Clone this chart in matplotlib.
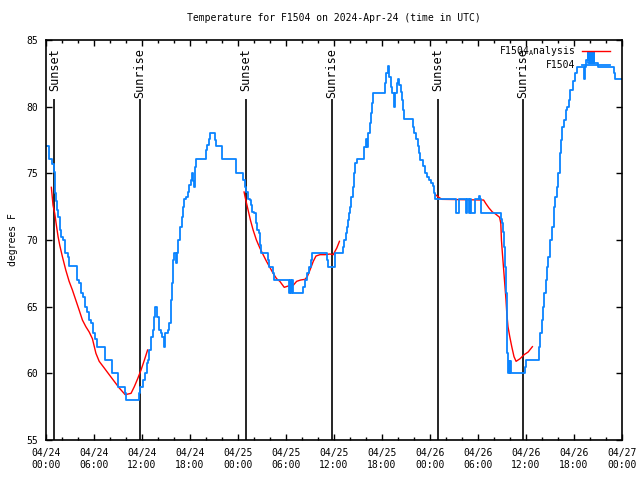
import numpy as np
import pandas as pd
import matplotlib
matplotlib.use('Agg')
import matplotlib.pyplot as plt
import matplotlib.dates as mdates

plt.rcParams['font.family'] = ['DejaVu Sans Mono']
plt.rcParams['font.size'] = 7
plt.rcParams['mathtext.fontset'] = 'custom'
plt.rcParams['mathtext.rm'] = 'DejaVu Sans Mono'

base = pd.Timestamp('2024-04-24 00:00')

# observed temperature (hours since 04/24 00:00 UTC, deg F)
obs_hours = [0.17, 0.38, 0.71, 0.96, 1.09, 1.30, 1.42, 1.55, 1.72, 1.88, 2.17, 2.38, 2.72, 2.93,
             3.85, 4.18, 4.39, 4.68, 4.89, 5.18, 5.40, 5.68, 5.90, 6.10, 6.40, 7.36, 8.20, 8.95,
             9.90, 10.00, 11.58, 11.80, 12.08, 12.34, 12.59, 12.80, 12.93, 13.17, 13.34, 13.50,
             13.68, 13.84, 14.10, 14.34, 14.52, 14.72, 14.93, 15.22, 15.43, 15.64, 15.68, 15.80,
             15.93, 16.06, 16.20, 16.35, 16.52, 16.69, 16.94, 17.15, 17.28, 17.48, 17.70, 17.90,
             18.07, 18.23, 18.40, 18.48, 18.61, 18.78, 19.95, 20.16, 20.37, 20.53, 21.16, 21.29,
             21.99, 22.04, 23.70, 23.80, 24.63, 24.84, 25.05, 25.26, 25.47, 25.60, 25.81, 25.97,
             26.19, 26.39, 26.64, 26.73, 26.85, 27.69, 27.89, 28.36, 28.52, 30.40, 30.50, 30.66,
             30.75, 30.85, 32.16, 32.37, 32.66, 32.87, 33.08, 33.29, 35.17, 35.29, 36.17, 37.10,
             37.26, 37.47, 37.60, 37.80, 37.93, 38.00, 38.14, 38.35, 38.52, 38.68, 38.90, 39.78,
             39.94, 40.10, 40.24, 40.44, 40.57, 40.74, 40.90, 42.32, 42.50, 42.70, 42.87, 43.07,
             43.29, 43.45, 43.66, 43.83, 44.00, 44.17, 44.33, 44.46, 44.58, 44.76, 45.85, 45.98,
             46.21, 46.46, 46.64, 46.80, 47.10, 47.40, 47.65, 47.93, 48.18, 48.40, 48.52, 48.65,
             51.30, 51.65, 52.50, 52.65, 52.85, 53.00, 53.15, 53.60, 54.10, 54.20, 54.35, 56.85,
             57.00, 57.10, 57.30, 57.40, 57.53, 57.60, 57.65, 57.70, 57.85, 57.95, 58.05, 58.15,
             59.90, 59.98, 61.65, 61.77, 61.94, 62.07, 62.27, 62.44, 62.61, 62.77, 62.94, 63.02,
             63.24, 63.45, 63.65, 63.86, 64.03, 64.20, 64.33, 64.53, 64.74, 64.95, 65.16, 65.33,
             65.53, 65.83, 66.08, 66.34, 67.25, 67.40, 67.55, 67.70, 67.80, 67.95, 68.05, 68.20,
             68.30, 68.45, 68.55, 69.00, 71.04, 71.15, 71.95]
obs_temp = [77.05, 76.1, 75.7, 75.1, 73.5, 72.9, 72.25, 71.7, 70.75, 70.25, 70.0, 69.0, 68.75, 68.05,
            67.0, 66.75, 66.0, 65.75, 65.0, 64.6, 64.0, 63.75, 63.0, 62.6, 62.0, 61.0, 60.0, 59.0,
            58.5, 58.0, 58.5, 59.0, 59.5, 60.0, 60.75, 61.0, 61.75, 62.75, 63.25, 64.25,
            65.0, 64.25, 63.25, 63.0, 62.75, 62.0, 63.0, 63.25, 63.75, 64.5, 65.5, 66.75,
            68.5, 69.0, 68.25, 69.0, 70.0, 71.0, 71.75, 72.5, 73.05, 73.25, 73.6, 74.1,
            74.5, 75.0, 74.4, 74.0, 75.5, 76.05, 76.75, 77.1, 77.6, 78.0, 77.5, 77.05,
            76.5, 76.05, 75.5, 75.05, 74.5, 74.0, 73.6, 73.1, 73.0, 72.6, 72.1, 72.0,
            71.25, 70.75, 70.5, 69.6, 69.0, 68.5, 68.0, 67.5, 67.0, 66.0, 67.0, 66.0,
            67.0, 66.0, 66.5, 67.0, 67.5, 68.0, 68.5, 69.0, 68.5, 68.0, 69.0, 69.5,
            70.0, 70.5, 71.0, 71.5, 72.0, 72.5, 73.25, 74.0, 75.0, 75.75, 76.05, 77.0,
            77.6, 77.0, 78.0, 78.75, 79.5, 80.25, 81.05, 81.75, 82.5, 83.05, 82.25, 81.5,
            81.0, 80.0, 81.0, 81.75, 82.1, 81.6, 81.1, 80.5, 79.75, 79.05, 78.5, 78.05,
            77.55, 77.05, 76.55, 76.0, 75.55, 75.05, 74.75, 74.5, 74.25, 74.05, 73.5, 73.05,
            72.0, 73.05, 72.0, 73.05, 72.0, 73.05, 72.0, 73.05, 73.3, 73.05, 72.0, 71.6,
            71.25, 70.6, 69.5, 68.0, 66.0, 64.0, 61.5, 60.0, 60.9, 60.0, 60.9, 60.0,
            60.5, 61.0, 62.0, 63.0, 64.0, 65.0, 66.0, 67.0, 68.0, 68.75, 69.2, 70.0,
            71.0, 72.5, 73.25, 74.0, 75.0, 76.5, 77.5, 78.5, 79.0, 79.75, 80.0, 80.5,
            81.25, 81.9, 82.5, 83.0, 82.1, 83.0, 83.5, 84.0, 83.3, 84.0, 83.3, 84.0,
            83.3, 84.0, 83.3, 83.0, 82.5, 82.05, 82.05]

# analysis (night-time only, gaps as nan)
ana_hours = [0.67, 0.88, 1.09, 1.30, 1.51, 1.72, 2.05, 2.47, 2.89, 3.30, 3.72, 4.14, 4.55, 4.98,
             5.40, 5.80, 6.24, 6.65, 7.28, 7.90, 8.53, 9.16, 9.90, 10.63, 11.04, 11.46, 11.88,
             12.30, 12.70, 18.0,
             24.76, 24.97, 25.26, 25.55, 25.89, 26.30, 26.73, 27.14, 27.56, 27.98, 28.39, 28.82,
             29.23, 29.78, 30.28, 30.90, 31.33, 31.83, 32.37, 32.66, 33.00, 33.41, 33.75, 34.25,
             34.88, 35.50, 35.90, 36.35, 36.68, 42.0,
             48.68, 49.10, 49.50, 54.70, 54.96, 55.37, 55.80, 56.20, 56.70, 56.85, 56.93, 57.05,
             57.18, 57.34, 57.50, 57.60, 57.75, 57.97, 58.22, 58.50, 58.76, 59.26, 59.77, 60.27,
             60.80]
ana_temp = [73.95, 72.6, 72.0, 71.1, 70.25, 69.6, 68.75, 67.75, 66.9, 66.25, 65.5, 64.75, 64.0, 63.5,
            63.1, 62.6, 61.5, 60.9, 60.4, 59.9, 59.4, 58.9, 58.4, 58.5, 59.0, 59.6, 60.25,
            61.0, 61.75, np.nan,
            73.6, 73.0, 72.25, 71.5, 70.75, 70.0, 69.4, 68.9, 68.4, 67.95, 67.5, 67.1,
            66.9, 66.45, 66.55, 66.6, 66.9, 67.0, 67.05, 67.25, 67.75, 68.4, 68.8, 68.9,
            68.9, 68.95, 68.9, 69.4, 69.9, np.nan,
            73.4, 73.2, 73.05, 73.0, 72.75, 72.4, 72.1, 71.95, 71.7, 71.25, 70.0, 69.0,
            68.0, 66.75, 65.5, 64.5, 63.5, 62.75, 62.0, 61.25, 60.9, 61.1, 61.4, 61.6,
            62.0]

sun_hours = [1.05, 11.7, 24.97, 35.75, 49.0, 59.65]
sun_labels = ['Sunset', 'Sunrise', 'Sunset', 'Sunrise', 'Sunset', 'Sunrise']

obs_t = base + pd.to_timedelta(obs_hours, unit='h')
ana_t = base + pd.to_timedelta(ana_hours, unit='h')
sun_t = base + pd.to_timedelta(sun_hours, unit='h')

fig = plt.figure(figsize=(6.4, 4.8), dpi=100)
ax = fig.add_axes([46 / 640, 40 / 480, 576 / 640, 400 / 480])

for t, lab in zip(sun_t, sun_labels):
    ax.vlines(t, 55, 80.6, color='black', lw=1.2)
    ax.text(t, 84.4, lab, rotation=90, ha='center', va='top', fontsize=8.5)

ax.plot(ana_t, ana_temp, color='red', lw=1.0, label=r'F1504$_{\mathrm{A}}$nalysis')
ax.plot(obs_t, obs_temp, color='#0a84ff', lw=1.3, drawstyle='steps-post', label='F1504')

ax.set_xlim(base, base + pd.Timedelta(days=3))
ax.set_ylim(55, 85)
ax.set_yticks(range(55, 86, 5))
ax.xaxis.set_major_locator(mdates.HourLocator(byhour=range(0, 24, 6)))
ax.xaxis.set_minor_locator(mdates.HourLocator(byhour=range(0, 24, 2)))
ax.xaxis.set_major_formatter(mdates.DateFormatter('%m/%d\n%H:%M'))
ax.tick_params(which='both', direction='in', top=True, right=True, width=1)
ax.tick_params(which='major', length=4, pad=6)
ax.tick_params(which='minor', length=2.3)
for s in ax.spines.values():
    s.set_linewidth(1.2)

ax.set_ylabel('degrees F', labelpad=6)
ax.set_title('Temperature for F1504 on 2024-Apr-24 (time in UTC)', fontsize=7, pad=14)
ax.legend(loc='upper right', bbox_to_anchor=(0.979, 0.99), frameon=False, markerfirst=False,
          borderpad=0, borderaxespad=0, handlelength=2.9, handletextpad=0.7, labelspacing=0.2)

fig.savefig('out.png', dpi=100)
